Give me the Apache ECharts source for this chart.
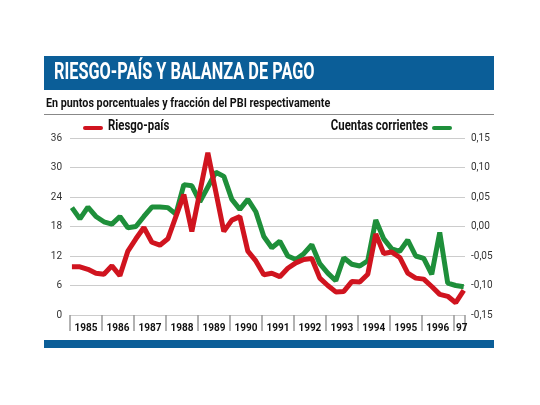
<!DOCTYPE html>
<html><head><meta charset="utf-8">
<script src="https://cdn.jsdelivr.net/npm/echarts@6/dist/echarts.min.js"></script>
<style>html,body{margin:0;padding:0;background:#fff}#c{width:540px;height:405px}</style>
</head><body><div id="c"></div>
<script>
const startYear = 1985;
const yearLabels = ['1985','1986','1987','1988','1989','1990','1991','1992','1993','1994','1995','1996','97'];
const riesgoPais = [9.8,9.8,9.3,8.5,8.3,10,8,13,15.5,17.8,14.8,14.2,15.5,20,24.5,17,25,33,25,17,19.3,20,13,11,8.2,8.5,7.8,9.5,10.6,11.3,11.5,7.5,6,4.7,4.8,6.8,6.7,8.3,16.5,12.5,12.8,11.7,8.5,7.5,7.3,5.8,4.2,3.8,2.5,5];
const cuentasCorrientes = [0.032,0.013,0.033,0.017,0.008,0.004,0.017,-0.002,0,0.017,0.033,0.033,0.032,0.021,0.071,0.069,0.042,0.067,0.092,0.085,0.046,0.029,0.046,0.025,-0.017,-0.036,-0.025,-0.05,-0.056,-0.046,-0.031,-0.063,-0.079,-0.092,-0.053,-0.064,-0.067,-0.058,0.011,-0.021,-0.038,-0.042,-0.023,-0.05,-0.054,-0.081,-0.01,-0.096,-0.1,-0.102];
const qx = i => startYear + 0.06 + i*0.25;
const font = "'Roboto','Liberation Sans',sans-serif";
const chart = echarts.init(document.getElementById('c'));
chart.setOption({
  animation:false,
  graphic:[
    {type:'rect',shape:{x:44,y:56,width:450,height:34},style:{fill:'#0b5e98'}},
    {type:'text',x:54,y:61,scaleX:0.68,style:{text:'RIESGO-PAÍS Y BALANZA DE PAGO',fill:'#fff',font:"bold 24px "+font}},
    {type:'text',x:46,y:97,scaleX:0.86,style:{text:'En puntos porcentuales y fracción del PBI respectivamente',fill:'#111',font:"bold 12.5px "+font}},
    {type:'rect',shape:{x:44,y:114,width:450,height:1},style:{fill:'#888'}},
    {type:'rect',shape:{x:83,y:126,width:20,height:4,r:2},style:{fill:'#d0141f'}},
    {type:'text',x:108,y:119,scaleX:0.76,style:{text:'Riesgo-país',fill:'#111',font:"bold 15px "+font}},
    {type:'text',x:428,y:119,scaleX:0.76,style:{text:'Cuentas corrientes',fill:'#111',font:"bold 15px "+font,align:'right'}},
    {type:'rect',shape:{x:432,y:126,width:20,height:4,r:2},style:{fill:'#1e8f3a'}},
    {type:'rect',shape:{x:44,y:340,width:450,height:8},style:{fill:'#0b5e98'}}
  ],
  grid:{left:70,right:75,top:138,bottom:90},
  xAxis:[
    {type:'value',min:1985,max:1997.35,show:false},
    {type:'value',min:1985,max:1997.35,interval:0.25,position:'bottom',axisLine:{show:false},axisTick:{show:false},splitLine:{show:false},
     axisLabel:{showMaxLabel:false,showMinLabel:false,margin:8,color:'#111',fontFamily:font,fontWeight:'bold',fontSize:10,
       formatter:v=>{const d=Math.round((v-1985)*4); if(d%4===2){return yearLabels[(d-2)/4]||'';} if(d===49) return '97'; return '';}}},
    {type:'value',min:1985,max:1997.35,interval:1,position:'bottom',axisLine:{show:false},axisLabel:{show:false},splitLine:{show:false},
     axisTick:{show:true,inside:false,length:16,lineStyle:{color:'#999',width:1.5}}}
  ],
  yAxis:[
    {type:'value',min:0,max:36,interval:6,axisLine:{show:false},axisTick:{show:false},
     axisLabel:{color:'#333',fontFamily:font,fontSize:10,margin:8},splitLine:{lineStyle:{color:'#ccc'}}},
    {type:'value',min:-0.15,max:0.15,interval:0.05,axisLine:{show:false},axisTick:{show:false},splitLine:{show:false},
     axisLabel:{color:'#333',fontFamily:font,fontSize:10,margin:6,formatter:v=>v.toFixed(2).replace('.',',')}}
  ],
  series:[
    {type:'line',name:'Cuentas corrientes',yAxisIndex:1,xAxisIndex:0,data:cuentasCorrientes.map((v,i)=>[qx(i),v]),showSymbol:false,lineStyle:{color:'#1e8f3a',width:5}},
    {type:'line',name:'Riesgo-país',yAxisIndex:0,xAxisIndex:0,data:riesgoPais.map((v,i)=>[qx(i),v]),showSymbol:false,lineStyle:{color:'#d0141f',width:5}}
  ]
});
</script></body></html>
